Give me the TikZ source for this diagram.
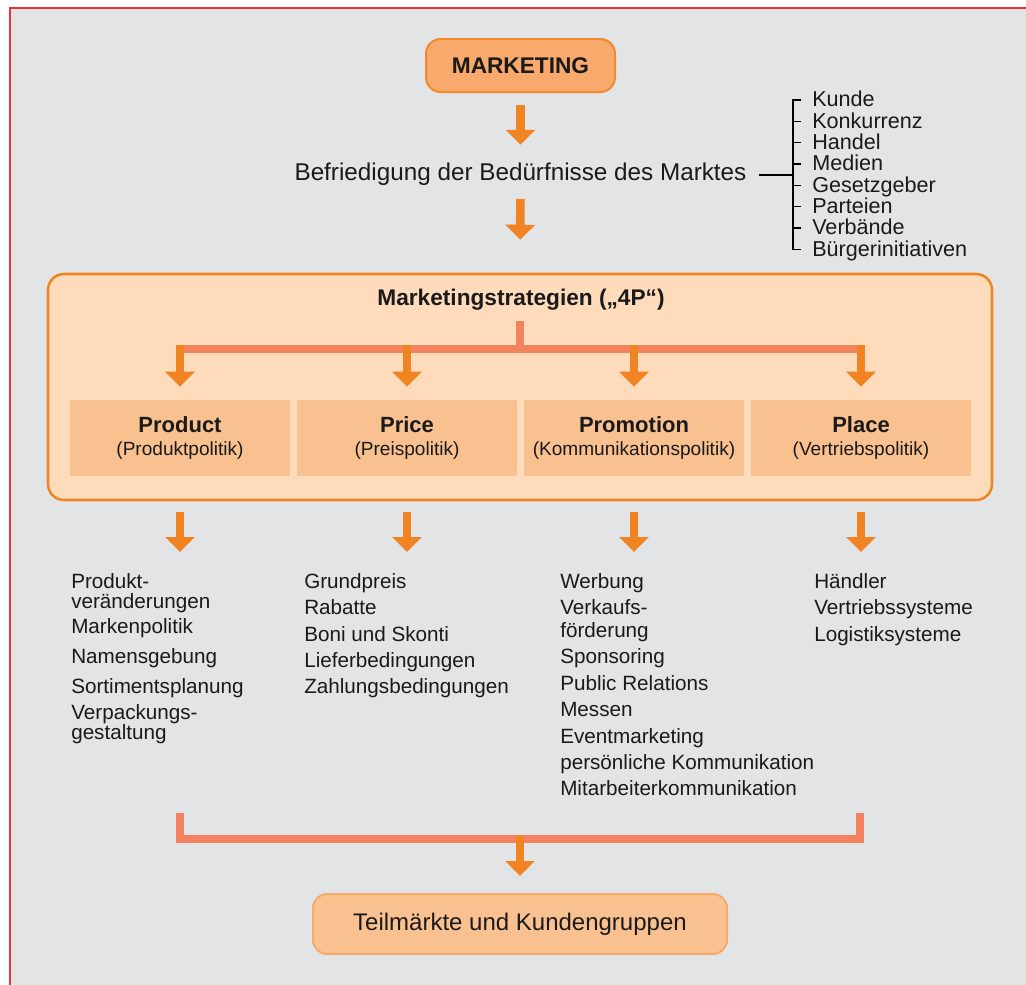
\documentclass[tikz,border=0pt]{standalone}
\usepackage{fontspec}
\setmainfont{Liberation Sans}
\usepackage{tikz}
\usetikzlibrary{arrows.meta,positioning}

\definecolor{pagegray}{HTML}{E3E4E6}
\definecolor{framered}{HTML}{EE3137}
\definecolor{mkfill}{HTML}{F8A96B}
\definecolor{mkline}{HTML}{F08A2C}
\definecolor{panelfill}{HTML}{FDDBBB}
\definecolor{panelline}{HTML}{F08526}
\definecolor{pfill}{HTML}{FAC190}
\definecolor{barsalmon}{HTML}{F3825F}
\definecolor{arroworange}{HTML}{F08423}
\definecolor{endline}{HTML}{F6AA68}
\definecolor{ink}{HTML}{1A1A1A}

\tikzset{
  fat/.style={draw=arroworange, line width=6.5pt, -{Triangle[width=21.75pt,length=11.25pt]}},
  bar/.style={draw=barsalmon, line width=6pt},
  pbox/.style={fill=pfill, minimum width=165pt, minimum height=57pt, inner sep=0pt, align=center,
    font=\fontsize{14.3}{17.25}\selectfont},
  listtext/.style={inner sep=0pt, align=left, anchor=north west, font=\fontsize{15.5}{15}\selectfont},
}

\begin{document}
\begin{tikzpicture}[x=0.75pt,y=0.75pt,yscale=-1,xscale=1,text=ink]
\useasboundingbox (0,0) rectangle (1026,985);
\fill[white] (0,0) rectangle (1026,985);
\draw[framered, line width=1.5pt, fill=pagegray] (10,8) rectangle (1040,1000);

% Marketing and needs of the market
\node[draw=mkline, line width=1.5pt, fill=mkfill, rounded corners=11pt, minimum width=141.75pt, minimum height=39.75pt, inner sep=0pt, font=\fontsize{17}{20}\selectfont\bfseries] (marketing) at (520.5,65.5) {MARKETING};
\node[inner sep=0pt, anchor=base, font=\fontsize{18.2}{20}\selectfont] (needs) at (520.5,180.5) {Befriedigung der Bedürfnisse des Marktes};
\draw[fat, shorten <=9pt, shorten >=13.4pt] (marketing.south) -- (needs.north);

% brace with market participants
\coordinate (brace) at (793,175);
\draw[line width=0.9pt, shorten <=9pt] (needs.east |- brace) -- (brace);
\draw[line width=0.9pt] (801,100) -- (793,100) -- (793,249.3) -- (801,249.3);
\foreach \k in {1,...,6}
  \draw[line width=0.9pt] (793,{100+21.33*\k}) -- ++(8,0);
\node[listtext, font=\fontsize{16.2}{16}\selectfont] (groups) at (812,91) {Kunde\\Konkurrenz\\Handel\\Medien\\Gesetzgeber\\Parteien\\Verbände\\Bürgerinitiativen};

% 4P panel
\node[draw=panelline, line width=1.9pt, fill=panelfill, rounded corners=12pt, minimum width=708pt, minimum height=169.5pt] (panel) at (520,387) {};
\draw[fat, shorten <=9.9pt, shorten >=24.75pt] (needs.south) -- (panel.north);
\node[inner sep=0pt, anchor=base, font=\fontsize{17}{20}\selectfont\bfseries] (strategies) at (521,305.5) {Marketingstrategien („4P“)};

\node[pbox] (product) at (180,438) {{\fontsize{16.5}{17.25}\selectfont\bfseries Product}\\(Produktpolitik)};
\node[pbox] (price) at (407,438) {{\fontsize{16.5}{17.25}\selectfont\bfseries Price}\\(Preispolitik)};
\node[pbox] (promotion) at (634,438) {{\fontsize{16.5}{17.25}\selectfont\bfseries Promotion}\\(Kommunikationspolitik)};
\node[pbox] (place) at (861,438) {{\fontsize{16.5}{17.25}\selectfont\bfseries Place}\\(Vertriebspolitik)};

\coordinate (stem) at (520,321);
\coordinate (fork) at (520,349);
\coordinate (bartop) at (520,345);
\draw[bar] (stem) -- (fork);
\draw[bar, shorten <=-3pt, shorten >=-1pt] (product.north |- fork) -- (place.north |- fork);
\foreach \p in {product,price,promotion,place}
  \draw[fat, shorten >=9.75pt] (\p.north |- bartop) -- (\p.north);

% instruments
\node[listtext] (prodlist) at (71,573) {Produkt-\\veränderungen\\[3.75pt]Markenpolitik\\[7.5pt]Namensgebung\\[7.5pt]Sortimentsplanung\\[4.5pt]Verpackungs-\\gestaltung};
\node[listtext] (pricelist) at (304,573) {Grundpreis\\[5pt]Rabatte\\[5pt]Boni und Skonti\\[4.5pt]Lieferbedingungen\\[4.5pt]Zahlungsbedingungen};
\node[listtext] (promolist) at (560,573) {Werbung\\[5pt]Verkaufs-\\[2.25pt]förderung\\[4.5pt]Sponsoring\\[5pt]Public Relations\\[4.5pt]Messen\\[5pt]Eventmarketing\\[5pt]persönliche Kommunikation\\[4.5pt]Mitarbeiterkommunikation};
\node[listtext] (placelist) at (814,573) {Händler\\[5pt]Vertriebssysteme\\[5pt]Logistiksysteme};

\foreach \p in {product,price,promotion,place}
  \draw[fat, shorten <=8.25pt, shorten >=15.75pt] (\p.south |- panel.south) -- (\p.south |- prodlist.north);

% target groups
\coordinate (gatherL) at (180,813);
\coordinate (gatherR) at (860,813);
\coordinate (gather) at (520,839);
\coordinate (gathertop) at (520,835);
\draw[bar, line join=miter] (gatherL) |- (gather) -| (gatherR);
\node[draw=endline, line width=1.5pt, fill=pfill, rounded corners=10.5pt, minimum width=310.5pt, minimum height=45pt, inner sep=0pt, font=\fontsize{18}{20}\selectfont] (segments) at (520,924) {Teilmärkte und Kundengruppen};
\draw[fat, shorten >=12.75pt] (gathertop) -- (segments.north);
\end{tikzpicture}
\end{document}
